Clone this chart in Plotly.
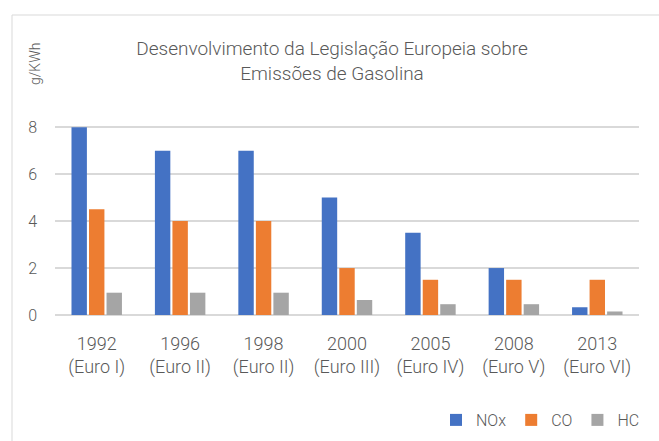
import plotly.graph_objects as go

categories = ["1992<br>(Euro I)", "1996<br>(Euro II)", "1998<br>(Euro II)", "2000<br>(Euro III)",
              "2005<br>(Euro IV)", "2008<br>(Euro V)", "2013<br>(Euro VI)"]
nox = [8.0, 7.0, 7.0, 5.0, 3.5, 2.0, 0.33]
co = [4.5, 4.0, 4.0, 2.0, 1.5, 1.5, 1.5]
hc = [0.95, 0.95, 0.95, 0.64, 0.46, 0.46, 0.15]
series_names = ["NOx", "CO", "HC"]
colors = ["#4472C4", "#ED7D31", "#A5A5A5"]

FONT = "Roboto"
TXT = "#595959"

fig = go.Figure()
for name, vals, col in zip(series_names, [nox, co, hc], colors):
    fig.add_trace(go.Bar(x=categories, y=vals, name=name, marker_color=col,
                         marker_line_width=0))

fig.update_layout(
    width=659, height=441,
    margin=dict(l=55, r=20, t=126, b=126, autoexpand=False),
    paper_bgcolor="white", plot_bgcolor="white",
    barmode="group", bargap=0.37, bargroupgap=0.12,
    font=dict(family=FONT, color=TXT, size=15, weight=300),
    title=dict(text="Desenvolvimento da Legislação Europeia sobre<br>Emissões de Gasolina",
               x=332 / 659, xanchor="center", y=1 - 55 / 441, yanchor="middle",
               font=dict(family=FONT, size=19, color=TXT, weight=300)),
    showlegend=True,
    legend=dict(orientation="h", x=(436 - 55) / 584, xanchor="left",
                y=(315 - 420) / 189, yanchor="middle",
                font=dict(family=FONT, size=16, color=TXT, weight=300),
                itemwidth=30, traceorder="normal"),
    xaxis=dict(showgrid=False, showline=False, ticks="", automargin=False,
               tickfont=dict(family=FONT, size=18, color=TXT, weight=300),
               ticklabelstandoff=16),
    yaxis=dict(range=[0, 8.05], dtick=2, tick0=0, showgrid=True, gridcolor="#D9D9D9",
               gridwidth=1.5, zeroline=True, zerolinecolor="#D9D9D9", zerolinewidth=1.5,
               showline=False, ticks="", ticklabelstandoff=17, automargin=False,
               tickfont=dict(family=FONT, size=16, color=TXT, weight=300)),
    shapes=[dict(type="rect", xref="paper", yref="paper",
                 x0=(12 - 55) / 584, x1=(670 - 55) / 584,
                 y0=(315 - 450) / 189, y1=(315 - 15) / 189,
                 line=dict(color="#D9D9D9", width=1), fillcolor="rgba(0,0,0,0)", layer="below")],
    annotations=[dict(text="g/KWh", xref="paper", yref="paper", textangle=-90,
                      x=(35 - 55) / 584, y=(315 - 64) / 189, xanchor="center", yanchor="middle",
                      showarrow=False, font=dict(family=FONT, size=14, color=TXT, weight=300))],
)

fig.write_html("out.html", config={"displayModeBar": False},
               post_script="document.body.style.margin='0';")
